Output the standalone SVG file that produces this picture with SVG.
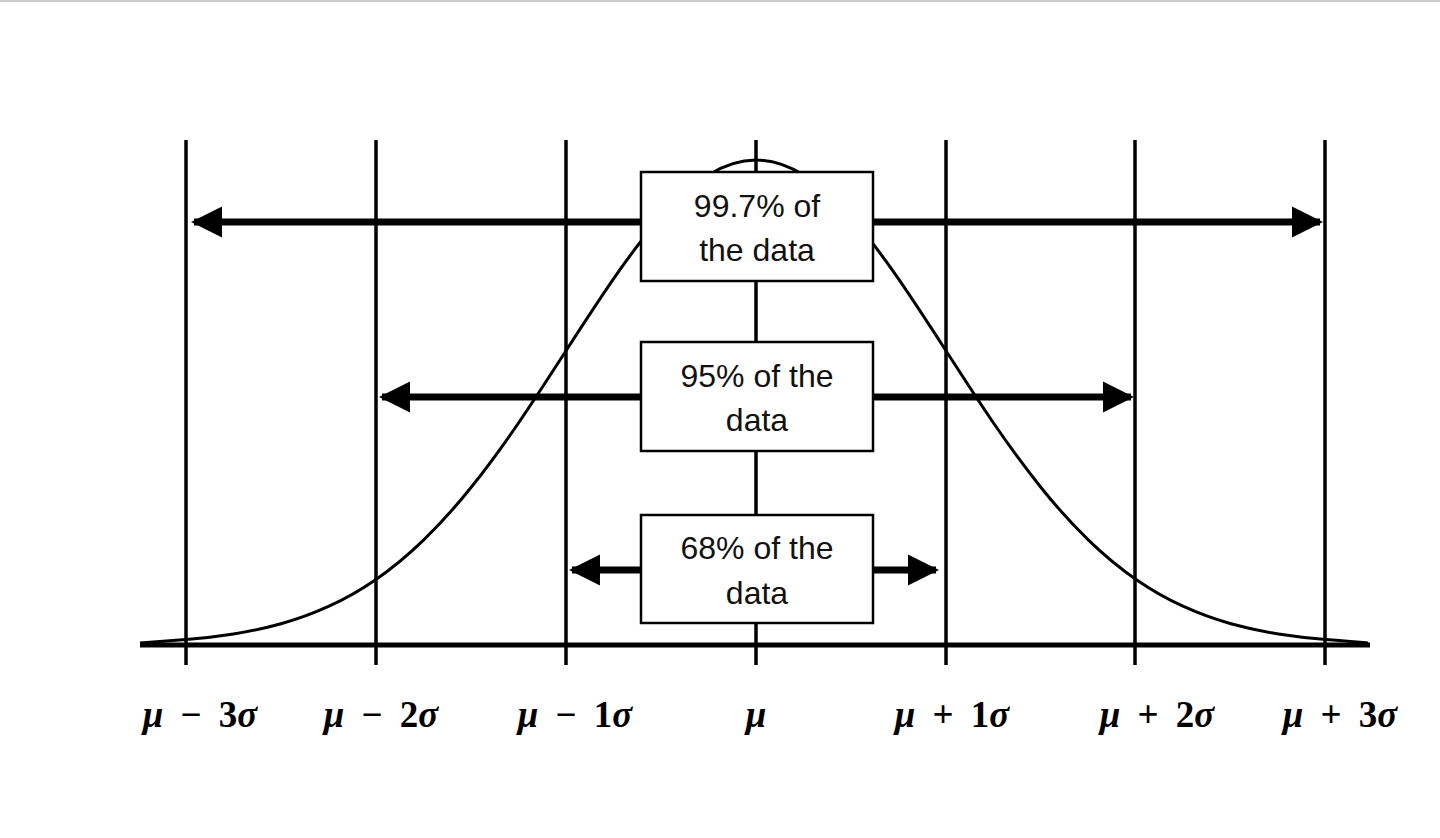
<svg xmlns="http://www.w3.org/2000/svg" width="1440" height="838" viewBox="0 0 1440 838">
<style>
.v{stroke:#000;stroke-width:3.5}
.a{stroke:#000;stroke-width:7}
.bx{fill:#fff;stroke:#000;stroke-width:2.5}
.t{font-family:"Liberation Sans",Arial,sans-serif;font-size:32px;text-anchor:middle;fill:#111}
.m{font-family:"Liberation Serif","DejaVu Serif",serif;font-size:37px;font-weight:bold;text-anchor:middle;fill:#000;word-spacing:8px}
.i{font-style:italic}
</style>
<defs>
<marker id="ah" viewBox="0 0 10 10" refX="9" refY="5" markerWidth="4.5" markerHeight="4.5" orient="auto-start-reverse" markerUnits="strokeWidth"><path d="M0,0L10,5L0,10z" fill="#000"/></marker>
</defs>
<rect width="1440" height="838" fill="#fff"/>
<line x1="0" y1="1" x2="1440" y2="1" stroke="#ccc" stroke-width="2"/>
<g id="axes">
<line class="v" x1="186" y1="140" x2="186" y2="665"/>
<line class="v" x1="376" y1="140" x2="376" y2="665"/>
<line class="v" x1="566" y1="140" x2="566" y2="665"/>
<line class="v" x1="756" y1="140" x2="756" y2="665"/>
<line class="v" x1="946" y1="140" x2="946" y2="665"/>
<line class="v" x1="1135" y1="140" x2="1135" y2="665"/>
<line class="v" x1="1325" y1="140" x2="1325" y2="665"/>
<line x1="140" y1="645" x2="1370" y2="645" stroke="#000" stroke-width="5"/>
</g>
<g id="curve" fill="none" stroke="#000" stroke-width="3">
<path d="M756,160 C771.8,160 787.7,165.1 803.5,174.9 C819.3,184.7 835.2,199.2 851,217 C866.8,234.8 882.7,256 898.5,278.9 C914.3,301.8 930.2,326.3 946,350.8 C961.8,375.3 977.7,399.9 993.5,423 C1009.3,446.1 1025.2,467.8 1041,487.5 C1056.8,507.2 1072.7,524.8 1088.5,540.1 C1104.3,555.4 1120.2,568.5 1136,579.4 C1151.8,590.3 1167.7,599.2 1183.5,606.4 C1199.3,613.6 1215.2,619.3 1231,623.7 C1246.8,628.1 1262.7,631.5 1278.5,634 C1294.3,636.5 1310.2,638.3 1326,639.6 C1340,640.8 1354,642 1368,643"/>
<path d="M756,160 C740.2,160 724.3,165.1 708.5,174.9 C692.7,184.7 676.8,199.2 661,217 C645.2,234.8 629.3,256 613.5,278.9 C597.7,301.8 581.8,326.3 566,350.8 C550.2,375.3 534.3,399.9 518.5,423 C502.7,446.1 486.8,467.8 471,487.5 C455.2,507.2 439.3,524.8 423.5,540.1 C407.7,555.4 391.8,568.5 376,579.4 C360.2,590.3 344.3,599.2 328.5,606.4 C312.7,613.6 296.8,619.3 281,623.7 C265.2,628.1 249.3,631.5 233.5,634 C217.7,636.5 201.8,638.3 186,639.6 C170,640.8 155,642 140,643"/>
</g>
<g id="connectors">
<line class="a" x1="641" y1="222" x2="194" y2="222" marker-end="url(#ah)"/>
<line class="a" x1="873" y1="222" x2="1320" y2="222" marker-end="url(#ah)"/>
<line class="a" x1="641" y1="397" x2="382" y2="397" marker-end="url(#ah)"/>
<line class="a" x1="873" y1="397" x2="1131" y2="397" marker-end="url(#ah)"/>
<line class="a" x1="641" y1="570" x2="572" y2="570" marker-end="url(#ah)"/>
<line class="a" x1="873" y1="570" x2="936" y2="570" marker-end="url(#ah)"/>
</g>
<g id="box997"><rect class="bx" x="641" y="172" width="232" height="109"/><text class="t" x="757" y="217">99.7% of</text><text class="t" x="757" y="261">the data</text></g>
<g id="box95"><rect class="bx" x="641" y="342" width="232" height="109"/><text class="t" x="757" y="387">95% of the</text><text class="t" x="757" y="431">data</text></g>
<g id="box68"><rect class="bx" x="641" y="515" width="232" height="108"/><text class="t" x="757" y="559">68% of the</text><text class="t" x="757" y="604">data</text></g>
<g id="labels">
<text class="m" x="200" y="727"><tspan class="i">μ</tspan> − 3<tspan class="i">σ</tspan></text>
<text class="m" x="381" y="727"><tspan class="i">μ</tspan> − 2<tspan class="i">σ</tspan></text>
<text class="m" x="575" y="727"><tspan class="i">μ</tspan> − 1<tspan class="i">σ</tspan></text>
<text class="m" x="756" y="727"><tspan class="i">μ</tspan></text>
<text class="m" x="952" y="727"><tspan class="i">μ</tspan> + 1<tspan class="i">σ</tspan></text>
<text class="m" x="1157" y="727"><tspan class="i">μ</tspan> + 2<tspan class="i">σ</tspan></text>
<text class="m" x="1340" y="727"><tspan class="i">μ</tspan> + 3<tspan class="i">σ</tspan></text>
</g>
</svg>
